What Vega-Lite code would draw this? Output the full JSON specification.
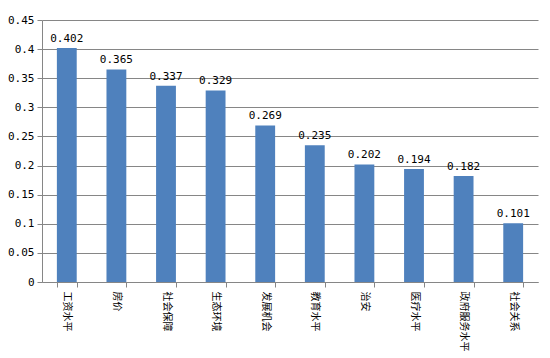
{
  "$schema": "https://vega.github.io/schema/vega-lite/v6.json",
  "width": 496,
  "height": 262,
  "autosize": {"type": "none"},
  "padding": {"left": 42, "top": 20, "right": 12, "bottom": 76},
  "background": "white",
  "data": {"values": [
    {"item": "工资水平", "value": 0.402},
    {"item": "房价", "value": 0.365},
    {"item": "社会保障", "value": 0.337},
    {"item": "生态环境", "value": 0.329},
    {"item": "发展机会", "value": 0.269},
    {"item": "教育水平", "value": 0.235},
    {"item": "治安", "value": 0.202},
    {"item": "医疗水平", "value": 0.194},
    {"item": "政府服务水平", "value": 0.182},
    {"item": "社会关系", "value": 0.101}
  ]},
  "encoding": {
    "x": {"field": "item", "type": "nominal", "sort": null,
      "scale": {"paddingInner": 0.6, "paddingOuter": 0.3},
      "axis": {"title": null, "labelAngle": 90, "labelAlign": "left", "labelBaseline": "middle",
        "labelFont": "Noto Sans CJK SC", "labelFontSize": 10, "labelColor": "#000000",
        "tickBand": "extent", "domainColor": "#868686", "tickColor": "#868686", "tickSize": 5, "labelPadding": 4}},
    "y": {"field": "value", "type": "quantitative",
      "scale": {"domain": [0, 0.45], "nice": false},
      "axis": {"title": null, "values": [0, 0.05, 0.1, 0.15, 0.2, 0.25, 0.3, 0.35, 0.4, 0.45],
        "format": "~g", "labelFont": "DejaVu Sans Mono", "labelFontSize": 11, "labelColor": "#000000",
        "gridColor": "#868686", "domainColor": "#868686", "tickColor": "#868686", "tickSize": 5, "labelPadding": 3}}
  },
  "layer": [
    {"mark": {"type": "bar", "color": "#4F81BD"}},
    {"mark": {"type": "text", "baseline": "bottom", "dy": -4, "font": "DejaVu Sans Mono", "fontSize": 11, "color": "#000000"},
      "encoding": {"text": {"field": "value", "type": "quantitative", "format": ".3f"}}}
  ],
  "config": {"view": {"stroke": null}}
}
